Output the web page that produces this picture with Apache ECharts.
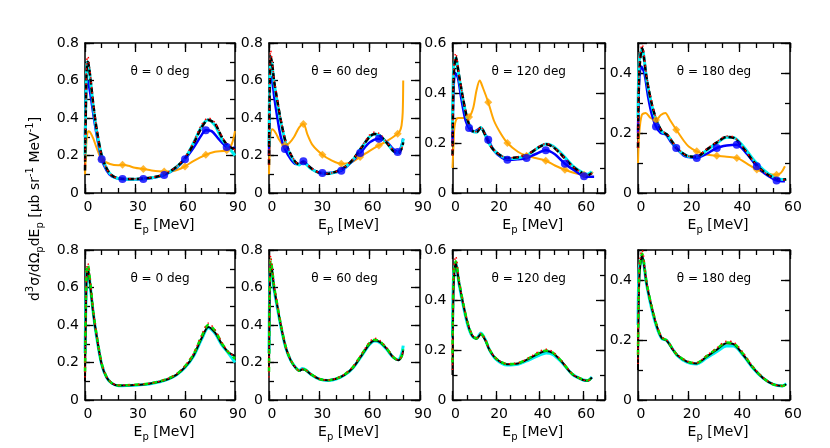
<!DOCTYPE html>
<html><head><meta charset="utf-8">
<script src="https://cdn.jsdelivr.net/npm/echarts@6/dist/echarts.min.js"></script>
<style>html,body{margin:0;padding:0;background:#fff}#c{width:830px;height:448px}</style>
</head><body><div id="c"></div>
<script>
// ---------- DATA ----------
const angles = ['0', '60', '120', '180'];
const xMaxes = [90, 90, 70, 60];
const xSteps = [30, 30, 20, 20];
const yMaxes = [0.8, 0.8, 0.6, 0.5];

// theta = 0 deg
const xs1 = [0, 0.5, 1, 1.7, 3, 5, 7, 10, 13, 16, 20, 25, 30, 35, 40, 45, 50, 55, 60, 65, 70, 74, 78, 82, 86, 90];
const t1k = [0.12, 0.45, 0.66, 0.70, 0.63, 0.47, 0.34, 0.20, 0.13, 0.095, 0.078, 0.075, 0.075, 0.077, 0.082, 0.092, 0.11, 0.14, 0.185, 0.26, 0.35, 0.39, 0.37, 0.30, 0.25, 0.235];
const t1c = [0.20, 0.50, 0.67, 0.70, 0.62, 0.46, 0.33, 0.20, 0.13, 0.094, 0.077, 0.073, 0.073, 0.076, 0.081, 0.090, 0.108, 0.14, 0.185, 0.265, 0.355, 0.39, 0.36, 0.29, 0.245, 0.20];
const t1r = [0.15, 0.50, 0.70, 0.73, 0.65, 0.48, 0.345, 0.20, 0.13, 0.095, 0.078, 0.076, 0.076, 0.078, 0.083, 0.093, 0.112, 0.143, 0.19, 0.27, 0.365, 0.40, 0.375, 0.305, 0.25, 0.23];
const b1k = [0.10, 0.45, 0.66, 0.70, 0.62, 0.46, 0.34, 0.19, 0.12, 0.09, 0.077, 0.078, 0.080, 0.083, 0.089, 0.098, 0.112, 0.135, 0.175, 0.235, 0.33, 0.39, 0.36, 0.30, 0.255, 0.235];
const b1c = [0.25, 0.50, 0.67, 0.70, 0.62, 0.46, 0.335, 0.19, 0.12, 0.09, 0.076, 0.077, 0.079, 0.082, 0.088, 0.097, 0.111, 0.134, 0.173, 0.232, 0.325, 0.385, 0.355, 0.295, 0.25, 0.20];
const b1g = [0.15, 0.50, 0.69, 0.72, 0.64, 0.47, 0.345, 0.195, 0.122, 0.091, 0.078, 0.079, 0.081, 0.084, 0.09, 0.1, 0.115, 0.138, 0.18, 0.242, 0.34, 0.40, 0.37, 0.305, 0.255, 0.22];
const b1r = [0.12, 0.52, 0.70, 0.73, 0.65, 0.48, 0.35, 0.197, 0.123, 0.092, 0.079, 0.08, 0.082, 0.085, 0.091, 0.101, 0.116, 0.14, 0.183, 0.247, 0.345, 0.41, 0.375, 0.31, 0.258, 0.23];
const o1x = [0, 0.5, 1, 2, 3, 5, 7, 10, 15, 20, 22.5, 26, 30, 35, 40, 47.5, 52, 56, 60, 65, 72.5, 78, 85, 88, 90];
const o1y = [0.1, 0.2, 0.29, 0.33, 0.325, 0.29, 0.24, 0.18, 0.155, 0.148, 0.151, 0.145, 0.135, 0.128, 0.12, 0.115, 0.116, 0.125, 0.142, 0.17, 0.204, 0.22, 0.228, 0.26, 0.33];
const o1m = [[10, 0.18], [22.5, 0.151], [35, 0.128], [47.5, 0.115], [60, 0.142], [72.5, 0.204], [85, 0.228]];
const u1x = [0, 0.5, 1, 1.5, 3, 5, 7, 10, 13, 16, 20, 22.5, 30, 35, 40, 47.5, 55, 60, 65, 70, 72.5, 76, 80, 85, 88, 90];
const u1y = [0.3, 0.5, 0.59, 0.60, 0.54, 0.42, 0.31, 0.18, 0.12, 0.09, 0.077, 0.075, 0.074, 0.075, 0.08, 0.096, 0.135, 0.18, 0.24, 0.31, 0.335, 0.33, 0.29, 0.245, 0.235, 0.245];
const u1m = [[10, 0.18], [22.5, 0.075], [35, 0.075], [47.5, 0.096], [60, 0.18], [72.5, 0.335], [85, 0.245]];

// theta = 60 deg
const xs2 = [0, 0.4, 1, 2, 3, 5, 7, 10, 13, 16, 18, 20, 22, 25, 30, 35, 40, 45, 50, 55, 60, 63, 66, 70, 74, 77, 79, 80];
const t2k = [0.15, 0.55, 0.73, 0.68, 0.60, 0.49, 0.39, 0.27, 0.205, 0.163, 0.153, 0.165, 0.158, 0.133, 0.108, 0.103, 0.114, 0.137, 0.178, 0.24, 0.30, 0.315, 0.307, 0.27, 0.225, 0.213, 0.235, 0.27];
const t2c = [0.25, 0.60, 0.72, 0.67, 0.59, 0.48, 0.38, 0.265, 0.20, 0.16, 0.15, 0.162, 0.155, 0.13, 0.107, 0.103, 0.113, 0.136, 0.177, 0.24, 0.30, 0.315, 0.305, 0.27, 0.225, 0.215, 0.245, 0.29];
const t2r = [0.15, 0.60, 0.76, 0.70, 0.61, 0.50, 0.395, 0.275, 0.207, 0.165, 0.154, 0.167, 0.16, 0.134, 0.108, 0.104, 0.115, 0.139, 0.18, 0.245, 0.31, 0.325, 0.315, 0.275, 0.228, 0.215, 0.235, 0.265];
const b2k = [0.15, 0.55, 0.73, 0.68, 0.60, 0.50, 0.40, 0.28, 0.21, 0.17, 0.155, 0.163, 0.158, 0.137, 0.112, 0.105, 0.113, 0.134, 0.172, 0.235, 0.30, 0.318, 0.31, 0.275, 0.228, 0.212, 0.23, 0.265];
const b2c = [0.25, 0.60, 0.72, 0.67, 0.59, 0.49, 0.395, 0.278, 0.21, 0.172, 0.158, 0.168, 0.16, 0.136, 0.111, 0.104, 0.112, 0.133, 0.171, 0.233, 0.297, 0.315, 0.307, 0.272, 0.228, 0.215, 0.245, 0.29];
const b2g = [0.15, 0.58, 0.75, 0.69, 0.61, 0.505, 0.405, 0.283, 0.212, 0.171, 0.156, 0.164, 0.159, 0.138, 0.112, 0.105, 0.114, 0.136, 0.175, 0.24, 0.305, 0.322, 0.313, 0.277, 0.23, 0.213, 0.232, 0.27];
const b2r = [0.12, 0.60, 0.77, 0.70, 0.62, 0.51, 0.41, 0.285, 0.213, 0.172, 0.157, 0.166, 0.16, 0.139, 0.113, 0.106, 0.115, 0.138, 0.178, 0.243, 0.31, 0.33, 0.318, 0.28, 0.232, 0.214, 0.232, 0.268];
const o2x = [0, 0.5, 1, 2, 4, 6, 8, 9.5, 12, 15, 18, 20.5, 23, 26, 31.8, 37, 43.1, 48, 54.3, 60, 65.5, 70, 76.7, 78, 79, 79.7, 80];
const o2y = [0.1, 0.25, 0.32, 0.34, 0.32, 0.285, 0.26, 0.255, 0.265, 0.3, 0.35, 0.368, 0.31, 0.255, 0.204, 0.175, 0.156, 0.16, 0.192, 0.225, 0.254, 0.275, 0.316, 0.33, 0.36, 0.43, 0.6];
const o2m = [[9.5, 0.255], [20.5, 0.368], [31.8, 0.204], [43.1, 0.156], [54.3, 0.192], [65.5, 0.254], [76.7, 0.316]];
const u2x = [0, 0.4, 1, 2, 3, 5, 7, 9.5, 13, 16, 18, 20.5, 23, 26, 31.8, 37, 43.1, 48, 54.3, 60, 65.5, 70, 74, 76.7, 78.5, 80];
const u2y = [0.2, 0.5, 0.62, 0.6, 0.52, 0.4, 0.3, 0.235, 0.18, 0.155, 0.155, 0.169, 0.15, 0.125, 0.107, 0.108, 0.119, 0.155, 0.213, 0.27, 0.29, 0.275, 0.235, 0.219, 0.24, 0.29];
const u2m = [[9.5, 0.235], [20.5, 0.169], [31.8, 0.107], [43.1, 0.119], [54.3, 0.213], [65.5, 0.29], [76.7, 0.219]];

// theta = 120 deg
const xs3 = [0, 0.5, 1.5, 3, 5, 7, 9, 11, 13, 15, 17, 20, 25, 30, 35, 40, 43, 46, 50, 55, 60, 62, 64];
const t3k = [0.15, 0.45, 0.545, 0.47, 0.37, 0.29, 0.25, 0.243, 0.262, 0.232, 0.195, 0.163, 0.14, 0.143, 0.157, 0.185, 0.195, 0.185, 0.153, 0.107, 0.077, 0.071, 0.08];
const t3c = [0.25, 0.50, 0.54, 0.465, 0.365, 0.29, 0.25, 0.243, 0.262, 0.232, 0.195, 0.163, 0.138, 0.14, 0.155, 0.185, 0.196, 0.188, 0.158, 0.11, 0.08, 0.075, 0.085];
const t3r = [0.15, 0.50, 0.56, 0.475, 0.375, 0.295, 0.252, 0.245, 0.265, 0.235, 0.197, 0.165, 0.141, 0.144, 0.158, 0.188, 0.198, 0.187, 0.154, 0.108, 0.077, 0.071, 0.078];
const b3k = [0.1, 0.45, 0.55, 0.47, 0.38, 0.305, 0.258, 0.245, 0.263, 0.24, 0.2, 0.165, 0.143, 0.146, 0.165, 0.188, 0.196, 0.188, 0.155, 0.103, 0.08, 0.077, 0.09];
const b3c = [0.25, 0.5, 0.545, 0.465, 0.375, 0.3, 0.256, 0.247, 0.268, 0.242, 0.2, 0.163, 0.14, 0.143, 0.16, 0.18, 0.188, 0.182, 0.152, 0.103, 0.08, 0.078, 0.092];
const b3g = [0.15, 0.5, 0.555, 0.475, 0.383, 0.307, 0.26, 0.246, 0.264, 0.242, 0.202, 0.166, 0.144, 0.147, 0.167, 0.19, 0.198, 0.19, 0.156, 0.104, 0.081, 0.078, 0.09];
const b3r = [0.12, 0.52, 0.575, 0.48, 0.385, 0.31, 0.262, 0.248, 0.266, 0.243, 0.203, 0.167, 0.145, 0.148, 0.169, 0.195, 0.203, 0.193, 0.158, 0.105, 0.081, 0.077, 0.088];
const o3x = [0, 0.5, 1, 2.5, 5, 7.6, 9.5, 11, 12.5, 14, 16.4, 19, 22, 25.2, 30, 34, 38, 42.8, 47, 51.6, 56, 60.4, 63, 64.5];
const o3y = [0.1, 0.2, 0.27, 0.3, 0.3, 0.304, 0.34, 0.41, 0.45, 0.42, 0.363, 0.29, 0.24, 0.2, 0.165, 0.149, 0.14, 0.129, 0.11, 0.093, 0.08, 0.073, 0.075, 0.084];
const o3m = [[7.6, 0.304], [16.4, 0.363], [25.2, 0.2], [34, 0.149], [42.8, 0.129], [51.6, 0.093], [60.4, 0.073]];
const u3x = [0, 0.5, 1.3, 2.5, 4, 6, 7.6, 9.5, 11, 13, 15, 16.4, 19, 22, 25.2, 30, 34, 38, 42.8, 47, 51.6, 56, 60.4, 63, 65];
const u3y = [0.2, 0.42, 0.48, 0.46, 0.38, 0.29, 0.26, 0.245, 0.25, 0.26, 0.235, 0.213, 0.17, 0.145, 0.133, 0.135, 0.14, 0.155, 0.171, 0.155, 0.117, 0.09, 0.067, 0.065, 0.065];
const u3m = [[7.6, 0.26], [16.4, 0.213], [25.2, 0.133], [34, 0.14], [42.8, 0.171], [51.6, 0.117], [60.4, 0.067]];

// theta = 180 deg
const xs4 = [0, 0.5, 1.6, 3.5, 5.5, 7.5, 9.4, 11.4, 13.4, 15.4, 19.3, 23, 27, 31, 35, 37.7, 41.6, 45.5, 49.5, 53.4, 57, 58.5];
const t4k = [0.15, 0.4, 0.483, 0.378, 0.295, 0.238, 0.206, 0.195, 0.172, 0.148, 0.124, 0.12, 0.144, 0.168, 0.187, 0.184, 0.15, 0.106, 0.072, 0.051, 0.044, 0.046];
const t4c = [0.25, 0.44, 0.48, 0.375, 0.29, 0.236, 0.205, 0.195, 0.172, 0.148, 0.124, 0.12, 0.142, 0.166, 0.186, 0.185, 0.155, 0.112, 0.077, 0.054, 0.045, 0.045];
const t4r = [0.15, 0.44, 0.495, 0.385, 0.3, 0.24, 0.208, 0.197, 0.174, 0.15, 0.125, 0.121, 0.146, 0.17, 0.19, 0.187, 0.151, 0.106, 0.072, 0.051, 0.043, 0.045];
const b4k = [0.1, 0.4, 0.483, 0.383, 0.306, 0.244, 0.206, 0.197, 0.172, 0.15, 0.128, 0.122, 0.144, 0.167, 0.189, 0.186, 0.15, 0.106, 0.072, 0.052, 0.047, 0.052];
const b4c = [0.25, 0.44, 0.475, 0.38, 0.3, 0.24, 0.205, 0.198, 0.173, 0.149, 0.126, 0.12, 0.14, 0.161, 0.18, 0.18, 0.148, 0.105, 0.072, 0.052, 0.047, 0.055];
const b4g = [0.15, 0.43, 0.488, 0.386, 0.308, 0.246, 0.208, 0.199, 0.174, 0.151, 0.129, 0.123, 0.146, 0.17, 0.192, 0.189, 0.153, 0.108, 0.073, 0.052, 0.047, 0.052];
const b4r = [0.12, 0.45, 0.5, 0.39, 0.31, 0.248, 0.21, 0.2, 0.175, 0.152, 0.13, 0.124, 0.148, 0.173, 0.196, 0.193, 0.156, 0.11, 0.074, 0.053, 0.047, 0.05];
const o4x = [0, 0.5, 1.5, 3, 5, 7.1, 9, 10.8, 12.5, 15.1, 18, 20, 23.2, 27, 31.1, 35, 39, 43, 46.9, 51, 54.7, 56.5, 58];
const o4y = [0.1, 0.2, 0.26, 0.267, 0.25, 0.243, 0.26, 0.267, 0.245, 0.211, 0.175, 0.155, 0.139, 0.128, 0.124, 0.121, 0.117, 0.098, 0.078, 0.065, 0.061, 0.068, 0.089];
const o4m = [[7.1, 0.243], [15.1, 0.211], [23.2, 0.139], [31.1, 0.124], [39, 0.117], [46.9, 0.078], [54.7, 0.061]];
const u4x = [0, 0.5, 1.3, 2.5, 4, 5.5, 7.1, 9, 11, 13, 15.1, 18, 20, 23.2, 27, 31.1, 35, 39, 43, 46.9, 50, 54.7, 58];
const u4y = [0.2, 0.38, 0.422, 0.4, 0.32, 0.26, 0.222, 0.2, 0.195, 0.17, 0.15, 0.125, 0.12, 0.117, 0.13, 0.15, 0.158, 0.161, 0.13, 0.089, 0.065, 0.042, 0.039];
const u4m = [[7.1, 0.222], [15.1, 0.15], [23.2, 0.117], [31.1, 0.15], [39, 0.161], [46.9, 0.089], [54.7, 0.042]];

// ---------- LAYOUT / STYLE ----------
const FONT = 'DejaVu Sans';
const lefts = [85, 269, 452.5, 638], widths = [150, 151, 152.5, 152], tops = [43, 250], H = 150;
const P = [
  {xs: xs1, T: [t1c, t1k, t1r], B: [b1c, b1k, b1g, b1r], ox: o1x, oy: o1y, om: o1m, ux: u1x, uy: u1y, um: u1m},
  {xs: xs2, T: [t2c, t2k, t2r], B: [b2c, b2k, b2g, b2r], ox: o2x, oy: o2y, om: o2m, ux: u2x, uy: u2y, um: u2m},
  {xs: xs3, T: [t3c, t3k, t3r], B: [b3c, b3k, b3g, b3r], ox: o3x, oy: o3y, om: o3m, ux: u3x, uy: u3y, um: u3m},
  {xs: xs4, T: [t4c, t4k, t4r], B: [b4c, b4k, b4g, b4r], ox: o4x, oy: o4y, om: o4m, ux: u4x, uy: u4y, um: u4m}
];
const zip = (a, b) => a.map((v, i) => [v, b[i]]);
const isMult = (v, s) => Math.abs(v / s - Math.round(v / s)) < 1e-6;

const grids = [], xAxes = [], yAxes = [], series = [], graphics = [];

function axis(gi, min, max, interval, pos, major, labeled, extra) {
  return Object.assign({
    gridIndex: gi, type: 'value', min: min, max: max, interval: interval, position: pos,
    splitLine: {show: false},
    axisLine: {show: major, onZero: false, lineStyle: {color: '#000', width: 1.5}},
    axisTick: {show: true, inside: true, length: major ? 9 : 5, lineStyle: {color: '#000', width: 1.3}},
    minorTick: {show: false},
    axisLabel: {show: labeled},
    axisPointer: {show: false}
  }, extra || {});
}

const lineS = (gi, xi, yi, data, color, width, type, z) => ({
  type: 'line', xAxisIndex: xi, yAxisIndex: yi, data: data, smooth: 0.3,
  showSymbol: false, symbol: 'none', silent: true, z: z,
  lineStyle: {color: color, width: width, type: type}
});
const markS = (xi, yi, data, color, sym, size, z) => ({
  type: 'scatter', xAxisIndex: xi, yAxisIndex: yi, data: data, symbol: sym, symbolSize: size,
  silent: true, z: z, itemStyle: {color: color}
});

for (let r = 0; r < 2; r++) {
  for (let p = 0; p < 4; p++) {
    const gi = grids.length;
    grids.push({left: lefts[p], top: tops[r], width: widths[p], height: H});
    const xmax = xMaxes[p], xs = xSteps[p], ymax = yMaxes[p];
    const xi = xAxes.length;
    xAxes.push(axis(gi, 0, xmax, xs, 'bottom', true, true, {
      axisLabel: {show: true, fontSize: 14, fontFamily: FONT, color: '#000', margin: 7, padding: [0, 0, 0, 6],
        showMaxLabel: true, formatter: v => isMult(v, xs) ? String(v) : ''},
      name: '{e|E}{s|p}{e| [MeV]}', nameLocation: 'middle', nameGap: 22,
      nameTextStyle: {padding: [0, 0, 0, 8], rich: {
        e: {fontSize: 14, fontFamily: FONT, color: '#000', lineHeight: 20},
        s: {fontSize: 10, fontFamily: FONT, color: '#000', lineHeight: 11, verticalAlign: 'bottom'}}}
    }));
    xAxes.push(axis(gi, 0, xmax, xs, 'top', true, false));
    xAxes.push(axis(gi, 0, xmax, xs / 3, 'bottom', false, false));
    xAxes.push(axis(gi, 0, xmax, xs / 3, 'top', false, false));
    const yi = yAxes.length;
    yAxes.push(axis(gi, 0, ymax, 0.2, 'left', true, true, {
      axisLabel: {show: true, fontSize: 14, fontFamily: FONT, color: '#000', margin: 6,
        formatter: v => isMult(v, 0.2) ? (v === 0 ? '0' : String(+v.toFixed(1))) : ''}
    }));
    yAxes.push(axis(gi, 0, ymax, 0.2, 'right', true, false));
    yAxes.push(axis(gi, 0, ymax, 0.1, 'left', false, false));
    yAxes.push(axis(gi, 0, ymax, 0.1, 'right', false, false));

    const d = P[p];
    if (r === 0) {
      series.push(lineS(gi, xi, yi, zip(d.ox, d.oy), '#FFA500', 2, 'solid', 2));
      series.push(lineS(gi, xi, yi, zip(d.ux, d.uy), '#0000FF', 2.5, 'solid', 3));
      series.push(lineS(gi, xi, yi, zip(d.xs, d.T[0]), '#00F0F0', 3, 'solid', 4));
      series.push(lineS(gi, xi, yi, zip(d.xs, d.T[1]), '#000000', 2.5, [6, 3], 5));
      series.push(lineS(gi, xi, yi, zip(d.xs, d.T[2]), '#FF0000', 1.5, [1.5, 3.5], 6));
      series.push(markS(xi, yi, d.om, '#FFA500', 'diamond', 8, 7));
      series.push(markS(xi, yi, d.um, '#0000FF', 'circle', 8, 8));
    } else {
      series.push(lineS(gi, xi, yi, zip(d.xs, d.B[0]), '#00F0F0', 3, 'solid', 3));
      series.push(lineS(gi, xi, yi, zip(d.xs, d.B[1]), '#000000', 2, 'solid', 4));
      series.push(lineS(gi, xi, yi, zip(d.xs, d.B[2]), '#00E000', 2.5, [5, 4], 5));
      series.push(lineS(gi, xi, yi, zip(d.xs, d.B[3]), '#FF0000', 1.5, [1.5, 3.5], 6));
    }
    graphics.push({
      type: 'text', x: lefts[p] + widths[p] / 2, y: tops[r] + 29, silent: true,
      style: {text: 'θ = ' + angles[p] + ' deg', fontSize: 12, fontFamily: FONT, fill: '#000',
        align: 'center', verticalAlign: 'middle'}
    });
  }
}

graphics.push({
  type: 'text', x: 35, y: 209, rotation: Math.PI / 2, silent: true,
  style: {
    text: '{n|d}{sp|3}{n|σ/dΩ}{sb|p}{n|dE}{sb|p}{n| [μb sr}{sp|-1}{n| MeV}{sp|-1}{n|]}',
    align: 'center', verticalAlign: 'middle', fill: '#000', fontSize: 14, fontFamily: FONT,
    rich: {
      n: {fontSize: 14, fontFamily: FONT, fill: '#000', lineHeight: 20},
      sp: {fontSize: 10, fontFamily: FONT, fill: '#000', lineHeight: 12, verticalAlign: 'top'},
      sb: {fontSize: 10, fontFamily: FONT, fill: '#000', lineHeight: 11, verticalAlign: 'bottom'}
    }
  }
});

const chart = echarts.init(document.getElementById('c'), null, {renderer: 'canvas'});
chart.setOption({
  animation: false,
  backgroundColor: '#fff',
  grid: grids, xAxis: xAxes, yAxis: yAxes, series: series, graphic: graphics
});
</script></body></html>
